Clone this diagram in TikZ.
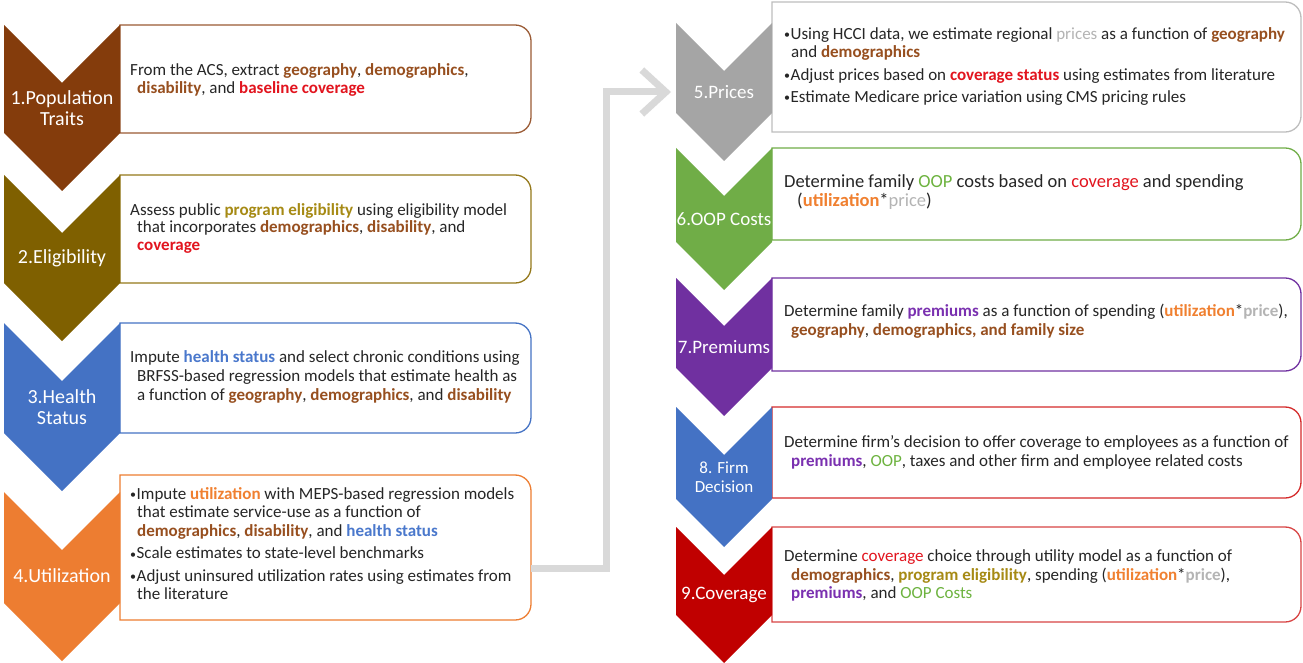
\documentclass[tikz,border=0pt]{standalone}
\usepackage{fontspec}
\setmainfont{Carlito}
\usetikzlibrary{arrows.meta}

% step colours
\definecolor{cBrown}{HTML}{843C0C}
\definecolor{cOlive}{HTML}{7F6000}
\definecolor{cBlue}{HTML}{4472C4}
\definecolor{cOrange}{HTML}{ED7D31}
\definecolor{cGray}{HTML}{A5A5A5}
\definecolor{cGreen}{HTML}{70AD47}
\definecolor{cPurple}{HTML}{7030A0}
\definecolor{cRed}{HTML}{C00000}
% frame colours
\definecolor{fBrown}{HTML}{9A5A34}
\definecolor{fOlive}{HTML}{94781A}
\definecolor{fGray}{HTML}{BDBDBD}
\definecolor{fRed}{HTML}{D42A2A}
\definecolor{fRedB}{HTML}{D84444}
% text colours
\definecolor{body}{HTML}{262626}
\definecolor{kBrown}{HTML}{974F1F}
\definecolor{kRed}{HTML}{E2141E}
\definecolor{kOlive}{HTML}{A68A14}
\definecolor{kBlue}{HTML}{4A78CC}
\definecolor{kOrange}{HTML}{F08030}
\definecolor{kGray}{HTML}{B4B4B4}
\definecolor{kGreen}{HTML}{6DB33F}
\definecolor{kPurple}{HTML}{7A30B0}
\definecolor{linkgray}{HTML}{D9D9D9}

% keyword helpers
\newcommand\kb[2]{\textcolor{#1}{\textbf{#2}}}
\newcommand\kn[2]{\textcolor{#1}{#2}}
% small list bullet
\newcommand\bul{{\fontsize{12}{12}\selectfont\raisebox{0.8pt}{•}}\hspace{0.5pt}}

\tikzset{
  lbl/.style={text=white, align=center, inner sep=0pt, font=\fontsize{20}{21.5}\selectfont},
  rlbl/.style={lbl, font=\fontsize{19}{20}\selectfont},
  slbl/.style={lbl, font=\fontsize{17}{19}\selectfont},
  tl/.style={anchor=base west, inner sep=0pt, text=body, font=\fontsize{17}{18}\selectfont},
  tlbig/.style={tl, font=\fontsize{18.5}{19}\selectfont},
  frame/.style={line width=1.3pt, fill=white},
  link/.style={draw=linkgray, line width=7pt, -{Straight Barb[length=24pt,width=44pt]}},
  area/.style={draw=none, inner sep=0pt}
}

% rounded-right frame: name, colour, x1, y1, x2, y2
\newcommand\frameBox[6]{%
  \draw[frame, draw=#2] (#3,#4) -- ({#5-16},#4)
    .. controls ({#5-7},#4) and (#5,{#4+7}) .. (#5,{#4+16})
    -- (#5,{#6-16})
    .. controls (#5,{#6-7}) and ({#5-7},#6) .. ({#5-16},#6)
    -- (#3,#6) -- cycle;
  \pgfmathsetmacro\fw{#5-#3}\pgfmathsetmacro\fh{#6-#4}%
  \node[area, minimum width=\fw pt, minimum height=\fh pt] (#1) at ({(#3+#5)/2},{(#4+#6)/2}) {};
}
% chevron: colour, x-left, x-right, top, side bottom
\newcommand\chevron[5]{%
  \fill[#1] (#2,#4) -- ({(#2+#3)/2},{#4+(#3-#2)/2}) -- (#3,#4) -- (#3,#5)
    -- ({(#2+#3)/2},{#5+(#3-#2)/2}) -- (#2,#5) -- cycle;
}
% one text line: name, x, baseline y, text
\newcommand\tx[4]{\node[tl] (#1) at (#2,#3) {#4};}

\begin{document}
\begin{tikzpicture}[x=1pt,y=-1pt]
\fill[white] (0,0) rectangle (1303,663);
\useasboundingbox (0,0) rectangle (1303,663);

% frames
\frameBox{b1}{fBrown}{120}{25}{531}{133}
\frameBox{b2}{fOlive}{120}{175}{531}{283}
\frameBox{b3}{cBlue}{120}{323}{531}{433}
\frameBox{b4}{cOrange}{120}{475}{531}{620}
\frameBox{b5}{fGray}{772}{2}{1301}{132}
\frameBox{b6}{cGreen}{772}{148}{1301}{240}
\frameBox{b7}{cPurple}{772}{278}{1301}{371}
\frameBox{b8}{fRed}{772}{407}{1301}{498}
\frameBox{b9}{fRedB}{772}{527}{1301}{622}

% chevrons
\chevron{cBrown}{4}{120}{25}{133}
\chevron{cOlive}{4}{120}{175}{283}
\chevron{cBlue}{4}{120}{323}{433}
\chevron{cOrange}{4}{120}{492}{603}
\chevron{cGray}{676}{772}{23}{113}
\chevron{cGreen}{676}{772}{148}{242}
\chevron{cPurple}{676}{772}{278}{368}
\chevron{cBlue}{676}{772}{407}{499}
\chevron{cRed}{676}{772}{527}{615}

% step labels
\node[lbl] (c1) at (62,108) {1.Population\\Traits};
\node[lbl] (c2) at (62,258) {2.Eligibility};
\node[lbl] (c3) at (62,407) {3.Health\\Status};
\node[lbl] (c4) at (62,576) {4.Utilization};
\node[rlbl] (c5) at (724,92) {5.Prices};
\node[rlbl] (c6) at (724,219) {6.OOP Costs};
\node[rlbl] (c7) at (724,347) {7.Premiums};
\node[slbl] (c8) at (724,477) {8. Firm\\Decision};
\node[rlbl] (c9) at (724,595) {9.Coverage};

% step 1
\tx{t1a}{130}{76}{From the ACS, extract \kb{kBrown}{geography}, \kb{kBrown}{demographics},}
\tx{t1b}{137}{93.5}{\kb{kBrown}{disability}, and \kb{kRed}{baseline coverage}}
% step 2
\tx{t2a}{130}{215.5}{Assess public \kb{kOlive}{program eligibility} using eligibility model}
\tx{t2b}{137}{233}{that incorporates \kb{kBrown}{demographics}, \kb{kBrown}{disability}, and}
\tx{t2c}{137}{250.5}{\kb{kRed}{coverage}}
% step 3
\tx{t3a}{130}{362.5}{Impute \kb{kBlue}{health status} and select chronic conditions using}
\tx{t3b}{137}{381.5}{BRFSS-based regression models that estimate health as}
\tx{t3c}{137}{400.5}{a function of \kb{kBrown}{geography}, \kb{kBrown}{demographics}, and \kb{kBrown}{disability}}
% step 4
\tx{t4a}{130}{499.5}{\bul{}Impute \kb{kOrange}{utilization} with MEPS-based regression models}
\tx{t4b}{137}{517.8}{that estimate service-use as a function of}
\tx{t4c}{137}{536.1}{\kb{kBrown}{demographics}, \kb{kBrown}{disability}, and \kb{kBlue}{health status}}
\tx{t4d}{130}{558.8}{\bul{}Scale estimates to state-level benchmarks}
\tx{t4e}{130}{581.1}{\bul{}Adjust uninsured utilization rates using estimates from}
\tx{t4f}{137}{599.4}{the literature}
% step 5
\tx{t5a}{784}{39.5}{\bul{}Using HCCI data, we estimate regional \kn{kGray}{prices} as a function of \kb{kBrown}{geography}}
\tx{t5b}{791}{57.5}{and \kb{kBrown}{demographics}}
\tx{t5c}{784}{80.5}{\bul{}Adjust prices based on \kb{kRed}{coverage status} using estimates from literature}
\tx{t5d}{784}{102.5}{\bul{}Estimate Medicare price variation using CMS pricing rules}
% step 6
\node[tlbig] (t6a) at (784,188) {Determine family \kn{kGreen}{OOP} costs based on \kn{kRed}{coverage} and spending};
\node[tlbig] (t6b) at (797,207) {(\kb{kOrange}{utilization}*\kn{kGray}{price})};
% step 7
\tx{t7a}{784}{316.5}{Determine family \kb{kPurple}{premiums} as a function of spending (\kb{kOrange}{utilization}*\kb{kGray}{price}),}
\tx{t7b}{791}{335.5}{\kb{kBrown}{geography}, \kb{kBrown}{demographics, and family size}}
% step 8
\tx{t8a}{784}{447.5}{Determine firm’s decision to offer coverage to employees as a function of}
\tx{t8b}{791}{466.5}{\kb{kPurple}{premiums}, \kn{kGreen}{OOP}, taxes and other firm and employee related costs}
% step 9
\tx{t9a}{784}{561.5}{Determine \kn{kRed}{coverage} choice through utility model as a function of}
\tx{t9b}{791}{580}{\kb{kBrown}{demographics}, \kb{kOlive}{program eligibility}, spending (\kb{kOrange}{utilization}*\kb{kGray}{price}),}
\tx{t9c}{791}{598.5}{\kb{kPurple}{premiums}, and \kn{kGreen}{OOP Costs}}

% hand-over from the first column to the second
\coordinate (c5in) at (671,92);
\draw[link] ([yshift=-20.5pt]b4.east) -- ++(75,0) |- (c5in);
\end{tikzpicture}
\end{document}
